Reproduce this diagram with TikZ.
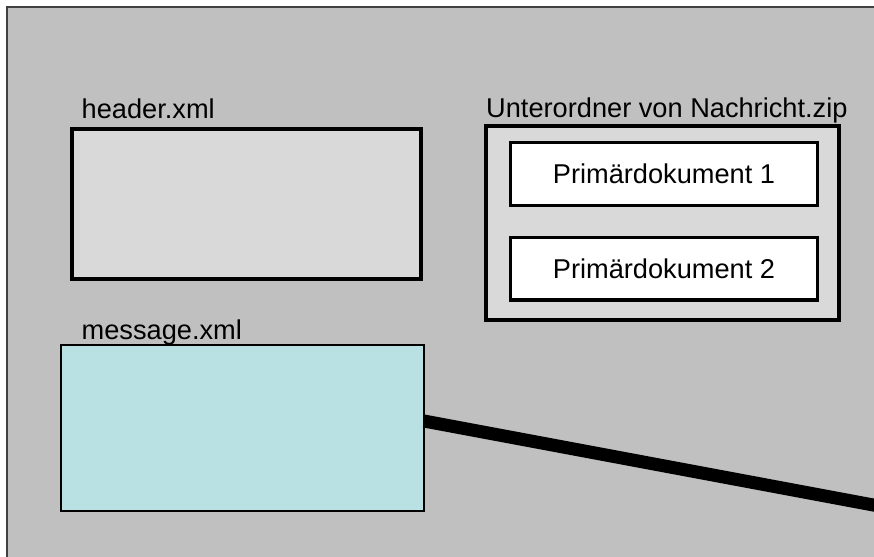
\documentclass[tikz,border=0pt]{standalone}
\usepackage{fontspec}
\setmainfont{Liberation Sans}
\usetikzlibrary{positioning}
\definecolor{bggray}{HTML}{C0C0C0}
\definecolor{framegray}{HTML}{404040}
\definecolor{boxgray}{HTML}{D9D9D9}
\definecolor{msgblue}{HTML}{B9E0E3}
\begin{document}
\begin{tikzpicture}[x=1pt,y=-1pt,
    filebox/.style={draw=black, line width=3.5pt, rectangle, inner sep=0pt, outer sep=0pt, anchor=north west},
    docbox/.style={draw=black, line width=3.5pt, fill=white, rectangle, inner sep=0pt, outer sep=0pt,
        minimum width=307pt, minimum height=62.5pt, font=\fontsize{27.2}{30}\selectfont},
    filename/.style={anchor=base west, inner sep=0pt, font=\fontsize{27.2}{30}\selectfont},
    wire/.style={line width=13pt}]

    \useasboundingbox (0,0) rectangle (874,556);
    \clip (0,0) rectangle (874,556);
    \fill[white] (0,0) rectangle (874,556);
    \draw[draw=framegray, line width=2pt, fill=bggray] (7,7) rectangle (900,600);

    % header.xml
    \node[filebox, fill=boxgray, minimum width=349pt, minimum height=150pt] (header) at (72,129) {};
    \node[filename] (headername) at (81.5,119) {header.xml};

    % Unterordner mit den Primaerdokumenten
    \node[filebox, fill=boxgray, minimum width=353pt, minimum height=194pt] (zip) at (486,126) {};
    \node[filename] (zipname) at (486,118) {Unterordner von Nachricht.zip};
    \node[docbox] (prim1) at (664,174) {Primärdokument 1};
    \node[docbox, below=32pt of prim1] (prim2) {Primärdokument 2};

    % message.xml
    \node[filebox, fill=msgblue, line width=2.5pt, minimum width=363pt, minimum height=166pt] (msg) at (61,345) {};
    \node[filename] (msgname) at (81.5,339.3) {message.xml};

    \coordinate (off) at (900,510);
    \draw[wire] ([yshift=7pt]msg.east) -- (off);
\end{tikzpicture}
\end{document}
